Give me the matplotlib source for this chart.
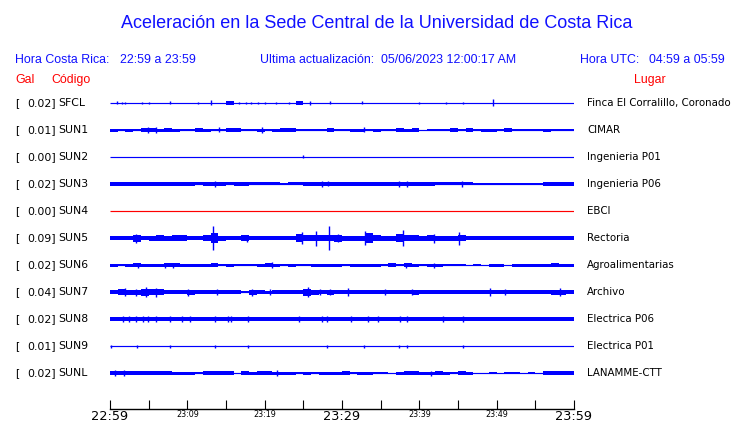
import numpy as np
import matplotlib
matplotlib.use("Agg")
import matplotlib.pyplot as plt
from matplotlib.transforms import blended_transform_factory

# ---------------- data ----------------
codes = ["SFCL", "SUN1", "SUN2", "SUN3", "SUN4", "SUN5", "SUN6", "SUN7", "SUN8", "SUN9", "SUNL"]
gal = [0.02, 0.01, 0.00, 0.02, 0.00, 0.09, 0.02, 0.04, 0.02, 0.01, 0.02]
places = ["Finca El Corralillo, Coronado", "CIMAR", "Ingenieria P01", "Ingenieria P06", "EBCI",
          "Rectoria", "Agroalimentarias", "Archivo", "Electrica P06", "Electrica P01", "LANAMME-CTT"]
trace_colors = ["blue", "blue", "blue", "blue", "red", "blue", "blue", "blue", "blue", "blue", "blue"]
tick_minutes = [0, 10, 20, 30, 40, 50, 60]
tick_labels = ["22:59", "23:09", "23:19", "23:29", "23:39", "23:49", "23:59"]
tick_big = [True, False, False, True, False, False, True]

# per-minute envelope (half amplitude) of each trace, 60 one-minute bins
env_SFCL = [0, 0, 0, 0, 0, 0, 0, 0, 0, 0, 0, 0, 0, 0, 0, 2, 0, 0, 0, 0,
            0, 0, 0, 0, 2, 0, 0, 0, 0, 0, 0, 0, 0, 0, 0, 0, 0, 0, 0, 0,
            0, 0, 0, 0, 0, 0, 0, 0, 0, 0, 0, 0, 0, 0, 0, 0, 0, 0, 0, 0]
env_SUN1 = [1.5, 1.3, 1.5, 1.3, 2, 2, 1.5, 2, 1.5, 1.3, 1.3, 2, 1.5, 1.3, 1.3, 2, 2, 1.3, 1.3, 1.5,
            1.3, 1.5, 2, 2, 1.3, 1.3, 1.3, 1.3, 2, 1.3, 1.3, 1.5, 1.5, 1.3, 1.5, 1.3, 1.3, 2, 1.5, 2,
            0.5, 1.3, 1.3, 1.3, 2, 1.3, 2, 1.3, 1.5, 1.5, 1.3, 2, 1.3, 1.3, 1.3, 1.3, 1.5, 1.3, 1.3, 1.3]
env_SUN2 = [0] * 60
env_SUN3 = [2, 2, 2, 2, 2, 2, 2, 2, 2, 2, 2, 1.5, 2, 2, 2, 1.5, 2, 2, 1.5, 1.5,
            1.5, 1.5, 1, 1.5, 1.5, 2, 2, 2, 2, 2, 2, 2, 2, 2, 2, 2, 2, 2, 2, 2,
            2, 2, 1.5, 1.5, 1.5, 1.5, 1.5, 1, 0.5, 1, 1, 0.5, 0.5, 1, 1, 1, 2, 2, 2, 2]
env_SUN4 = [0] * 60
env_SUN5 = [2.3, 2.3, 2.3, 3.5, 2.3, 2.5, 3, 2.5, 2.7, 2.7, 2.3, 2.3, 3, 5, 2.5, 2.3, 2.3, 3, 2.3, 2.3,
            2.3, 2.3, 2.3, 2.3, 4, 3, 3, 3, 3, 3.5, 2.5, 2.5, 2.5, 5, 3, 2.5, 2.5, 4, 3, 3,
            2.5, 3, 2.5, 2.5, 2.5, 3, 2.3, 2.2, 2.2, 2.2, 2.2, 2.2, 2.2, 2.2, 2.2, 2.2, 2.2, 2.2, 2.2, 2.2]
env_SUN6 = [1.5, 1, 1.5, 2, 1.5, 1.5, 1.5, 2, 2, 1.5, 1.5, 1.5, 1.5, 2, 1, 1.5, 1, 1, 1, 1.5,
            2, 1.5, 1, 1.5, 1, 1, 1.5, 1.5, 1.5, 1.5, 1, 1.5, 1.5, 1.5, 1.5, 1, 2, 1, 2, 1.5,
            1, 1.5, 1.5, 1, 1, 1, 0.5, 1, 0.5, 1.5, 1.5, 0.5, 1.5, 1.5, 1.5, 1.5, 1.5, 2, 1.5, 1.5]
env_SUN7 = [2, 3, 2.5, 2.5, 3.5, 3, 3, 2, 2, 2, 2.5, 2, 2, 2, 2, 2, 2, 1, 2.5, 2,
            1.5, 2, 2, 2, 2, 3.5, 2.5, 2, 2.5, 2, 2, 2, 2, 2, 2, 2, 2, 2, 2, 2.5,
            2, 2, 2, 2, 2, 2, 2, 2, 2, 2, 2, 2, 2, 2, 2, 2, 2, 2.5, 2.5, 2]
env_SUN8 = [2.2] * 60
env_SUN9 = [0] * 60
env_SUNL = [2, 2, 1.8, 1.8, 1.8, 1.8, 1.8, 1.8, 1.5, 1.5, 1.5, 1, 1.8, 1.8, 1.8, 1.8, 0.5, 1.8, 1.5, 1.8,
            1.8, 1.5, 1.5, 1.5, 1, 1.5, 1, 1.5, 1.5, 1.5, 1.8, 1, 1.5, 1.5, 1, 1, 0.5, 1.5, 1.8, 1.8,
            1.5, 1.5, 1.8, 1.5, 1, 1.8, 1.5, 0.5, 0.5, 1, 0.5, 1, 1, 0.5, 1, 0.5, 1.8, 1.8, 1.8, 1.8]

# isolated spikes: (minute, half amplitude)
spk_SFCL = [(0.9, 1.5), (1.5, 1), (2.0, 1), (4.1, 1), (5.1, 1), (7.7, 1.5), (11.4, 1), (13.0, 2.5),
            (16.7, 1), (17.6, 1), (18.2, 1), (19.1, 1), (20.1, 1), (21.5, 1), (23.2, 1), (25.9, 2),
            (28.4, 1.5), (32.6, 1.5), (40.0, 1), (43.5, 1), (45.6, 1), (49.5, 3.5)]
spk_SUN1 = [(4.9, 3), (5.95, 3), (14.1, 2.5), (19.6, 3), (32.9, 2.5)]
spk_SUN2 = [(25.0, 1.5)]
spk_SUN3 = [(13.6, 3), (27.4, 3), (28.2, 2.5), (37.4, 3), (38.4, 3), (45.5, 3)]
spk_SUN4 = []
spk_SUN5 = [(3.3, 4.5), (13.3, 12), (17.7, 3.5), (24.8, 6), (26.7, 7.5), (28.3, 12), (29.5, 4),
            (33.0, 7), (37.9, 8), (41.9, 4.5), (45.1, 6.5)]
spk_SUN6 = [(3.6, 2.5), (7.1, 2.5), (8.2, 2.5), (20.9, 3), (38.3, 2.5), (41.9, 2.5)]
spk_SUN7 = [(1.9, 4), (3.4, 3.5), (4.6, 5), (6.0, 4.5), (10.1, 3.5), (13.9, 3), (18.3, 3.5), (20.7, 3),
            (25.6, 5), (27.2, 3), (28.5, 3), (30.8, 4), (35.6, 3), (39.0, 3), (49.1, 4), (51.1, 3), (58.2, 4)]
spk_SUN8 = [(1.7, 2.8), (2.4, 2.8), (3.4, 2.8), (4.3, 2.8), (4.9, 2.8), (6.0, 2.8), (7.7, 2.8), (9.3, 2.8),
            (10.3, 2.8), (13.6, 2.8), (15.2, 2.8), (15.6, 2.8), (17.8, 2.8), (24.4, 2.8), (27.4, 2.8),
            (28.1, 3.2), (31.2, 2.8), (33.3, 2.8), (34.6, 2.8), (37.5, 2.8), (38.4, 2.8), (43.1, 2.8), (45.6, 2.8)]
spk_SUN9 = [(0.1, 1.5), (3.5, 1.5), (7.7, 1.5), (13.6, 1.5), (17.8, 1.5), (28.1, 1.5), (32.9, 1.5),
            (37.4, 1.5), (38.4, 1.5), (45.6, 1.5)]
spk_SUNL = [(0.7, 3), (1.8, 3.3), (21.6, 3), (41.5, 2.5)]

envs = [env_SFCL, env_SUN1, env_SUN2, env_SUN3, env_SUN4, env_SUN5, env_SUN6, env_SUN7, env_SUN8, env_SUN9, env_SUNL]
spikes = [spk_SFCL, spk_SUN1, spk_SUN2, spk_SUN3, spk_SUN4, spk_SUN5, spk_SUN6, spk_SUN7, spk_SUN8, spk_SUN9, spk_SUNL]

# ---------------- layout ----------------
W, H = 740, 423
fig = plt.figure(figsize=(W / 100, H / 100), dpi=100)
fig.patch.set_facecolor("white")

def fx(x):
    return x / W

def fy(y):
    return 1 - y / H

X0, X1, YT, YB = 110, 574, 90, 409
ax = fig.add_axes([fx(X0), fy(YB), (X1 - X0) / W, (YB - YT) / H])
ax.set_xlim(0, 60)
ax.set_ylim(YB, YT)
ax.patch.set_alpha(0)

ROW0, DROW = 103, 27
for i, code in enumerate(codes):
    y0 = ROW0 + DROW * i
    c = trace_colors[i]
    ax.plot([0, 60], [y0, y0], color=c, lw=0.85, solid_capstyle="butt")
    e = np.array(envs[i] + [envs[i][-1]], dtype=float)
    xm = np.arange(61)
    if e.max() > 0:
        ax.fill_between(xm, y0 - e, y0 + e, step="post", color=c, lw=0)
    if spikes[i]:
        t = [s[0] for s in spikes[i]]
        a = np.array([s[1] for s in spikes[i]])
        ax.vlines(t, y0 - a, y0 + a, color=c, lw=1.0)

    lf = dict(family="DejaVu Sans", fontsize=7.8, color="black", va="center")
    fig.text(fx(15), fy(y0), "[", ha="left", **lf)
    fig.text(fx(27), fy(y0), f"{gal[i]:.2f}]", ha="left", **lf)
    fig.text(fx(58), fy(y0), code, ha="left", **lf)
    rl = dict(lf)
    rl["fontsize"] = 7.4
    fig.text(fx(587), fy(y0), places[i], ha="left", **rl)

for s in ["left", "top", "right"]:
    ax.spines[s].set_visible(False)
ax.spines["bottom"].set_linewidth(1.0)
ax.set_yticks([])
ax.set_xticks(np.arange(0, 61, 5))
ax.set_xticklabels([])
ax.tick_params(axis="x", direction="in", length=6.2, width=0.8, colors="black")
trans = blended_transform_factory(ax.transData, fig.transFigure)
for m, lab, big in zip(tick_minutes, tick_labels, tick_big):
    if big:
        ax.text(m, fy(419.5), lab, transform=trans, ha="center", va="baseline",
                family="DejaVu Sans", fontsize=9.3, clip_on=False)
    else:
        ax.text(m, fy(417.3), lab, transform=trans, ha="center", va="baseline",
                family="DejaVu Sans", fontsize=5.8, clip_on=False)

# ---------------- header texts ----------------
tf = "Liberation Sans"
fig.text(fx(377), fy(23), "Aceleración en la Sede Central de la Universidad de Costa Rica",
         family=tf, fontsize=13.0, color="#1010ff", ha="center", va="center")
hf = dict(family=tf, fontsize=8.9, color="#1010ff", va="center")
fig.text(fx(15), fy(60), "Hora Costa Rica:", ha="left", **hf)
fig.text(fx(120), fy(60), "22:59 a 23:59", ha="left", **hf)
fig.text(fx(260), fy(60), "Ultima actualización:", ha="left", **hf)
fig.text(fx(381), fy(60), "05/06/2023 12:00:17 AM", ha="left", **hf)
fig.text(fx(580), fy(60), "Hora UTC:", ha="left", **hf)
fig.text(fx(725), fy(60), "04:59 a 05:59", ha="right", **hf)
rf = dict(family=tf, fontsize=8.9, color="red", va="center")
fig.text(fx(15), fy(80), "Gal", ha="left", **rf)
fig.text(fx(51), fy(80), "Código", ha="left", **rf)
fig.text(fx(634), fy(80), "Lugar", ha="left", **rf)

fig.savefig("out.png", dpi=100, facecolor="white")
